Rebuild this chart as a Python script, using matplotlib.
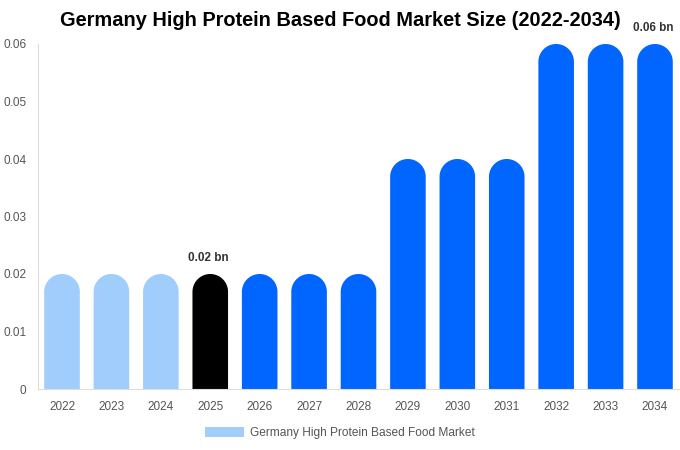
import numpy as np
import matplotlib
matplotlib.use('Agg')
import matplotlib.pyplot as plt
from matplotlib.patches import Polygon, Patch

plt.rcParams['font.family'] = ['Liberation Sans', 'DejaVu Sans']

# data
years = ['2022', '2023', '2024', '2025', '2026', '2027', '2028',
         '2029', '2030', '2031', '2032', '2033', '2034']
values = [0.02, 0.02, 0.02, 0.02, 0.02, 0.02, 0.02,
          0.04, 0.04, 0.04, 0.06, 0.06, 0.06]
colors = ['#a0cdfc'] * 3 + ['#000000'] + ['#0066ff'] * 9
labelled = {'2025': '0.02 bn', '2034': '0.06 bn'}
yticks = [0, 0.01, 0.02, 0.03, 0.04, 0.05, 0.06]
ytick_labels = ['0', '0.01', '0.02', '0.03', '0.04', '0.05', '0.06']

W, H = 680, 450
fig = plt.figure(figsize=(W / 100, H / 100), dpi=100)
ax = fig.add_axes([38 / W, 1 - 389 / H, 1 - 38 / W, (389 - 44) / H])
ax.set_xlim(-0.486, 12.506)
ax.set_ylim(0, 0.06)

bw = 0.72
# radius of the rounded top, in y data units (half the bar width in pixels)
px_per_x = (ax.get_position().width * W) / (12.506 + 0.486)
px_per_y = (ax.get_position().height * H) / 0.06
ry = (bw / 2) * px_per_x / px_per_y

t = np.linspace(0, np.pi, 60)
for i, (v, c) in enumerate(zip(values, colors)):
    top = v - ry
    xs = [i - bw / 2] + list(i + (bw / 2) * np.cos(t[::-1])) + [i + bw / 2]
    ys = [0] + list(top + ry * np.sin(t[::-1])) + [0]
    ax.add_patch(Polygon(np.column_stack([xs, ys]), closed=True,
                         facecolor=c, edgecolor='none'))
    if years[i] in labelled:
        ax.text(i - 0.03, v + 0.0018, labelled[years[i]], ha='center', va='bottom',
                fontsize=8.5, fontweight='bold', color='#333333', clip_on=False)

ax.set_xticks(range(len(years)))
ax.set_xticklabels(years)
ax.set_yticks(yticks)
ax.set_yticklabels(ytick_labels)
ax.tick_params(axis='both', length=0, labelsize=8.5, labelcolor='#555555')
ax.tick_params(axis='x', pad=9)
ax.tick_params(axis='y', pad=8.5)
for s in ['top', 'right']:
    ax.spines[s].set_visible(False)
for s in ['left', 'bottom']:
    ax.spines[s].set_color('#dddddd')
    ax.spines[s].set_linewidth(0.8)

fig.text(340 / W, 1 - 21 / H, 'Germany High Protein Based Food Market Size (2022-2034)',
         ha='center', va='center', fontsize=14.4, fontweight='bold', color='#000000')

fig.legend(handles=[Patch(facecolor='#a0cdfc', edgecolor='none')],
           labels=['Germany High Protein Based Food Market'],
           loc='center', bbox_to_anchor=(340 / W, 1 - 433 / H), frameon=False,
           fontsize=8.6, labelcolor='#555555', handlelength=3.3, handleheight=0.9,
           handletextpad=0.5)

fig.savefig('out.png', dpi=100)
